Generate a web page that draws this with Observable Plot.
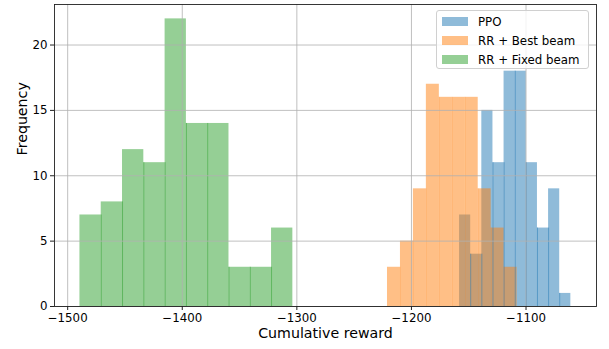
<!DOCTYPE html>
<html>
<head>
<meta charset="utf-8">
<script src="https://cdn.jsdelivr.net/npm/d3@7"></script>
<script src="https://cdn.jsdelivr.net/npm/@observablehq/plot@0.6"></script>
<style>
  body { margin: 0; background: #fff; }
  #wrap { position: relative; width: 609px; height: 349px; font-family: "DejaVu Sans", sans-serif; }
  #legend { position: absolute; left: 436px; top: 10px; width: 151px; height: 57px;
    border: 1px solid #d0d0d0; border-radius: 3px; background: rgba(255,255,255,0.8);
    font-size: 11.8px; color: #000; }
  .item { position: absolute; left: 5px; height: 19px; display: flex; align-items: center; }
  .sw { width: 26px; height: 9px; margin-right: 10px; }
</style>
</head>
<body>
<div id="wrap"></div>
<script>
// Histogram data (10 equal-width bins per series)
const seriesNames = ["PPO", "RR + Best beam", "RR + Fixed beam"];
const seriesColors = ["#1f77b4", "#ff7f0e", "#2ca02c"];
const edgeOpacity = [0.5, 0.15, 0.5];
const ppoCounts = [7, 4, 15, 11, 18, 18, 11, 6, 9, 1];
const ppoRange = [-1158, -1060.9];
const bestCounts = [3, 5, 9, 17, 16, 16, 16, 9, 6, 3];
const bestRange = [-1220.9, -1107.8];
const fixedCounts = [7, 8, 12, 11, 22, 14, 14, 3, 3, 6];
const fixedRange = [-1489.3, -1303.5];
const xTicks = [-1500, -1400, -1300, -1200, -1100];
const yTicks = [0, 5, 10, 15, 20];

function bins(counts, range, k) {
  const w = (range[1] - range[0]) / counts.length;
  return counts.map((c, i) => ({series: seriesNames[k], op: edgeOpacity[k],
    x1: range[0] + i * w, x2: range[0] + (i + 1) * w, count: c,
    edge: i > 0 ? Math.min(c, counts[i - 1]) : null}));
}
const all = [
  ...bins(ppoCounts, ppoRange, 0),
  ...bins(bestCounts, bestRange, 1),
  ...bins(fixedCounts, fixedRange, 2)
];
const edges = all.filter(d => d.edge !== null);

const chart = Plot.plot({
  width: 609, height: 349,
  marginLeft: 54, marginRight: 13, marginTop: 4, marginBottom: 43,
  style: {fontFamily: "DejaVu Sans, sans-serif", fontSize: "11.8px", color: "#000", background: "#fff"},
  x: {domain: [-1511.5, -1038.5]},
  y: {domain: [0, 23.1]},
  color: {domain: seriesNames, range: seriesColors},
  marks: [
    Plot.rectY(all, {x1: "x1", x2: "x2", y1: 0, y2: "count", fill: "series", fillOpacity: 0.5}),
    Plot.ruleX(edges, {x: "x1", y1: 0, y2: "edge", stroke: "series", strokeOpacity: "op", strokeWidth: 1}),
    Plot.gridX(xTicks, {stroke: "#b0b0b0", strokeOpacity: 1, strokeWidth: 0.8}),
    Plot.gridY(yTicks, {stroke: "#b0b0b0", strokeOpacity: 1, strokeWidth: 0.8}),
    Plot.frame({stroke: "#222", strokeWidth: 0.9}),
    Plot.axisX(xTicks, {tickSize: 4, tickPadding: 3, tickFormat: d => "\u2212" + Math.abs(d), label: null, stroke: "#222"}),
    Plot.axisY(yTicks, {tickSize: 4, tickPadding: 3, label: null, stroke: "#222"}),
    Plot.text(["Cumulative reward"], {frameAnchor: "bottom", dy: 31, fontSize: 14.2, fill: "#000"}),
    Plot.text(["Frequency"], {frameAnchor: "left", dx: -32, rotate: -90, fontSize: 14.2, fill: "#000"})
  ]
});
const wrap = document.getElementById("wrap");
wrap.appendChild(chart);

const legend = document.createElement("div");
legend.id = "legend";
seriesNames.forEach((name, i) => {
  const it = document.createElement("div");
  it.className = "item";
  it.style.top = (1 + i * 19) + "px";
  const sw = document.createElement("div");
  sw.className = "sw";
  sw.style.background = seriesColors[i];
  sw.style.opacity = 0.5;
  const tx = document.createElement("span");
  tx.textContent = name;
  it.appendChild(sw); it.appendChild(tx);
  legend.appendChild(it);
});
wrap.appendChild(legend);
</script>
</body>
</html>
